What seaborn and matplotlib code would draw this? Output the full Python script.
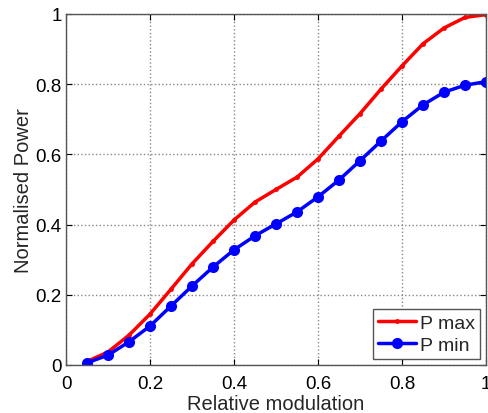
import matplotlib
matplotlib.use('Agg')
import matplotlib.pyplot as plt
import seaborn as sns
import numpy as np

modulation = [0.05, 0.10, 0.15, 0.20, 0.25, 0.30, 0.35, 0.40, 0.45, 0.50,
              0.55, 0.60, 0.65, 0.70, 0.75, 0.80, 0.85, 0.90, 0.95, 1.00]
p_max = [0.010, 0.037, 0.085, 0.145, 0.216, 0.288, 0.352, 0.413, 0.464, 0.500,
         0.535, 0.587, 0.652, 0.716, 0.786, 0.852, 0.915, 0.960, 0.990, 0.998]
p_min = [0.006, 0.028, 0.066, 0.111, 0.168, 0.225, 0.279, 0.328, 0.368, 0.402,
         0.436, 0.479, 0.527, 0.582, 0.638, 0.693, 0.741, 0.777, 0.797, 0.807]
tick_labels = ['0', '0.2', '0.4', '0.6', '0.8', '1']

sns.set_style("white")
plt.rcParams['font.family'] = ['Liberation Sans', 'DejaVu Sans']

fig = plt.figure(figsize=(4.89, 4.14), dpi=100)
ax = fig.add_axes([0.135, 0.116, 0.859, 0.848])

sns.lineplot(x=modulation, y=p_max, ax=ax, color='#ff0000', linewidth=2.5,
             marker='.', markersize=7, markeredgewidth=0, label='P max')
sns.lineplot(x=modulation, y=p_min, ax=ax, color='#0000ff', linewidth=2.5,
             marker='o', markersize=8, markeredgewidth=0, label='P min')

ax.set_xlim(0, 1)
ax.set_ylim(0, 1)
ax.set_xticks(np.arange(0, 1.01, 0.2))
ax.set_yticks(np.arange(0, 1.01, 0.2))
ax.set_xticklabels(tick_labels)
ax.set_yticklabels(tick_labels)
ax.grid(True, linestyle=':', color='#888888', linewidth=1)
ax.tick_params(direction='in', length=4, labelsize=13.5, colors='black',
               top=True, right=True, bottom=True, left=True, pad=3)
ax.tick_params(axis='x', pad=7)
for s in ax.spines.values():
    s.set_color('#555555')
    s.set_linewidth(1)
ax.set_xlabel('Relative modulation', fontsize=14.5, labelpad=2)
ax.set_ylabel('Normalised Power', fontsize=14.5, labelpad=2)

leg = ax.legend(loc='lower right', fontsize=14, fancybox=False, framealpha=1,
                edgecolor='#555555', handlelength=2.0, handletextpad=0.2,
                borderpad=0.25, labelspacing=0.25, borderaxespad=0.3)
leg.get_frame().set_linewidth(1)

fig.savefig('out.png', dpi=100)
plt.close(fig)
